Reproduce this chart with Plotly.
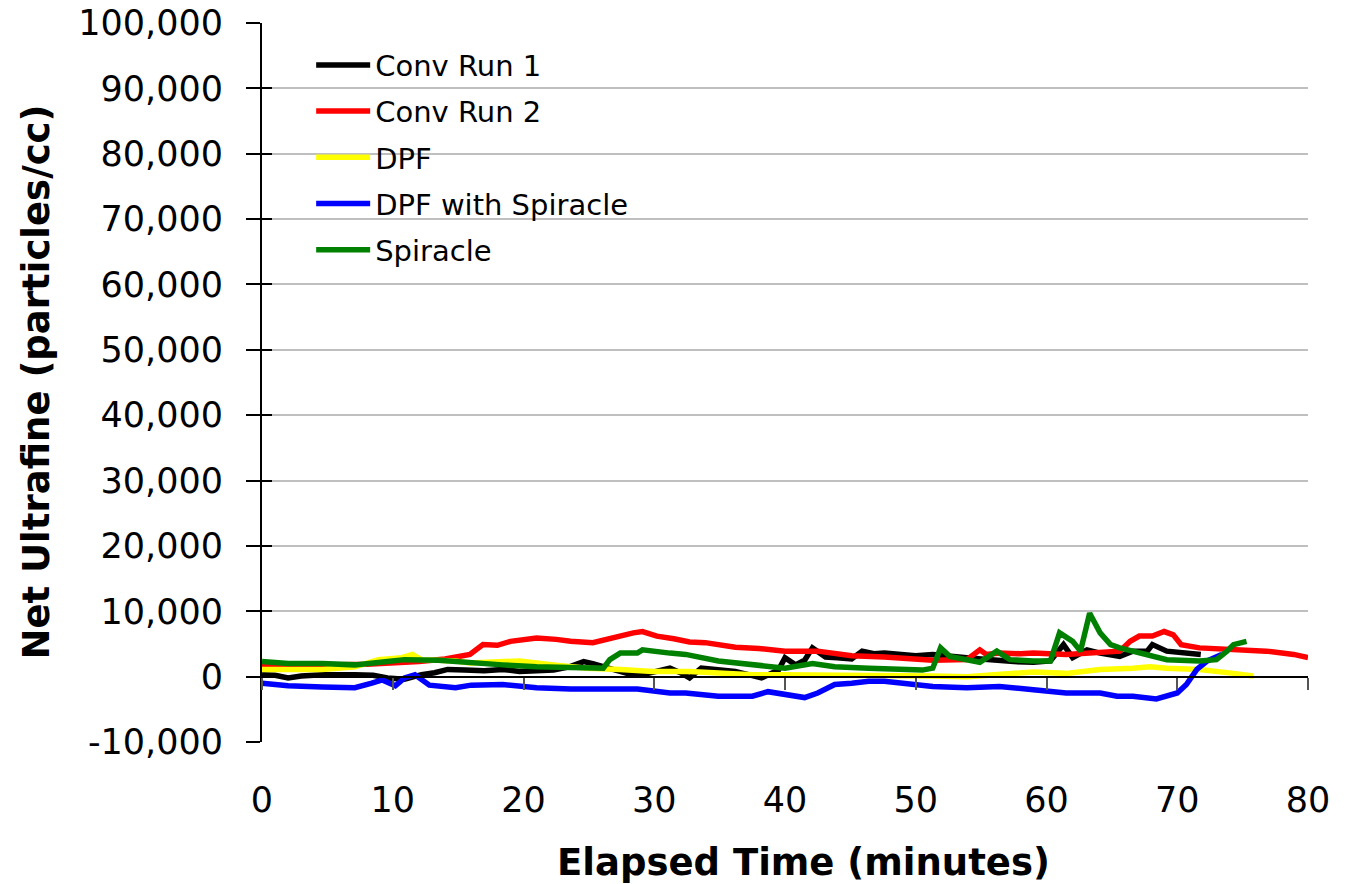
import plotly.graph_objects as go

# ---------------- data ----------------
conv1_t = [0, 1, 2, 3, 4.6, 6, 7.1, 8.5, 9.6, 10.9, 12.2, 13.2, 14.2, 15.5, 17, 18.4, 19.7, 21, 22.3,
           23.5, 24.6, 25.3, 26.1, 27, 27.9, 29.1, 30.2, 31.2, 32, 32.7, 33.6, 35, 36.2, 37.2, 38.2,
           39.5, 40, 40.8, 41.5, 42.1, 43.1, 44, 45.1, 45.9, 46.8, 47.6, 48.8, 50, 51.3, 52.5, 53.9,
           55, 56.4, 57.5, 59, 60.3, 61.3, 62, 63.1, 64.1, 65.6, 66.6, 67.7, 68.1, 69.2, 70.5, 71.8]
conv1_v = [300, 200, -200, 100, 300, 400, 300, 200, -200, -400, 300, 600, 1100, 1000, 900, 1100, 800,
           900, 1000, 1500, 2300, 2000, 1500, 900, 500, 300, 800, 1300, 600, -200, 1300, 1000, 800,
           300, -200, 1000, 2900, 1800, 2500, 4400, 3000, 2900, 2700, 3900, 3500, 3600, 3400, 3200,
           3400, 3100, 2900, 2700, 2400, 2300, 2200, 2400, 4900, 2900, 4100, 3600, 3100, 3900, 3900,
           4900, 3900, 3600, 3400]

conv2_t = [0, 2, 4, 6, 8, 10, 12, 14, 15.9, 16.9, 18, 19, 21, 22.5, 23.6, 25.3, 26.6, 28.4, 29.1,
           30.2, 31.5, 32.7, 33.9, 35, 36.2, 38, 40, 42.5, 44, 45.1, 47.6, 49.2, 51.3, 53.9, 54.9,
           55.4, 56.4, 58, 59, 61.5, 64.1, 65.6, 66.4, 67.1, 68.1, 69, 69.7, 70.3, 71.7, 73, 74.3,
           76.8, 78.9, 80]
conv2_v = [1600, 1600, 1700, 1800, 1900, 2000, 2300, 2700, 3400, 4900, 4800, 5400, 5900, 5700, 5400,
           5200, 5900, 6700, 6900, 6200, 5800, 5300, 5200, 4900, 4500, 4300, 3900, 3900, 3500, 3200,
           3000, 2800, 2500, 2600, 4100, 3400, 3600, 3500, 3600, 3400, 3600, 3900, 5400, 6200, 6200,
           6900, 6400, 4900, 4400, 4300, 4100, 3900, 3400, 2900]

dpf_t = [0, 2, 4.6, 7.1, 8.9, 10.7, 11.5, 12.2, 14.8, 15.9, 18.4, 19.7, 22.3, 24.9, 27.4, 29.9, 32.7,
         34.9, 37.5, 40, 42.5, 45.1, 47.6, 48.8, 51.3, 53.9, 56.4, 59, 61.5, 64.1, 66.6, 67.9, 69.2,
         71.7, 74.3, 75.8]
dpf_v = [1100, 1100, 1100, 1500, 2600, 2900, 3400, 2600, 2400, 2100, 2400, 2400, 1800, 1300, 1100,
         800, 800, 500, 300, 300, 300, 300, 300, 300, 100, 0, 300, 700, 500, 1100, 1300, 1500, 1300,
         1100, 500, 100]

dpfsp_t = [0, 2, 4.6, 7.1, 8.4, 9.2, 10.2, 10.9, 11.7, 12.2, 12.8, 14.8, 16, 18.4, 21, 23.6, 26.1,
           28.7, 31.2, 32.4, 34.9, 37.5, 38.7, 40, 41.5, 42.5, 43.8, 45.1, 46.4, 47.6, 48.8, 51.3,
           53.9, 56.4, 59, 61.5, 64.1, 65.4, 66.6, 68.4, 70, 70.7, 71.5, 72.3, 73.4]
dpfsp_v = [-1000, -1400, -1600, -1700, -1000, -500, -1400, -200, 300, -500, -1300, -1700, -1300,
           -1200, -1700, -1900, -1900, -1900, -2500, -2500, -3000, -3000, -2300, -2700, -3200, -2500,
           -1200, -1000, -700, -700, -1000, -1500, -1700, -1500, -2000, -2500, -2500, -3000, -3000,
           -3400, -2500, -1200, 1100, 2400, 3400]

spir_t = [0, 2, 4.6, 7.1, 9.6, 10.9, 13.5, 16.3, 18.4, 21, 23.6, 26.1, 26.6, 27.4, 28.7, 29.1, 31.2,
          32.4, 34.9, 37.5, 40, 42.1, 43.8, 46.4, 49.2, 50.5, 51.3, 51.9, 52.6, 53.9, 54.9, 56.2,
          57.2, 59, 60.3, 61, 62, 62.6, 63.3, 64.1, 64.9, 65.6, 66.6, 69.2, 71.7, 73, 73.8, 74.3, 75.3]
spir_v = [2300, 2000, 2000, 1800, 2300, 2600, 2500, 2000, 1800, 1500, 1500, 1300, 2600, 3600, 3600,
          4100, 3600, 3400, 2400, 1800, 1300, 2000, 1500, 1300, 1000, 1000, 1300, 4400, 3100, 2600,
          2200, 3900, 2600, 2400, 2400, 6700, 5400, 3900, 9700, 6700, 4900, 4400, 3900, 2600, 2400,
          2600, 3900, 4900, 5400]

series_names = ["Conv Run 1", "Conv Run 2", "DPF", "DPF with Spiracle", "Spiracle"]
series_colors = ["#000000", "#FF0000", "#FFFF00", "#0000FF", "#008000"]
series_t = [conv1_t, conv2_t, dpf_t, dpfsp_t, spir_t]
series_v = [conv1_v, conv2_v, dpf_v, dpfsp_v, spir_v]

x_ticks = list(range(0, 81, 10))
y_ticks = list(range(-10000, 100001, 10000))
y_ticktext = [f"{v:,}" for v in y_ticks]

FONT = "DejaVu Sans"

fig = go.Figure()
for n, c, t, v in zip(series_names, series_colors, series_t, series_v):
    fig.add_trace(go.Scatter(x=t, y=v, mode="lines", name=n, legendgroup=n,
                             line=dict(color=c, width=5.5)))

# empty helper traces so the overlay axes render
fig.add_trace(go.Scatter(x=[], y=[], xaxis="x2", yaxis="y", showlegend=False, hoverinfo="skip"))
fig.add_trace(go.Scatter(x=[], y=[], xaxis="x", yaxis="y2", showlegend=False, hoverinfo="skip"))

fig.update_layout(
    template="none",
    width=1350, height=884,
    margin=dict(l=262, r=42, t=23, b=142, autoexpand=False),
    paper_bgcolor="white", plot_bgcolor="white",
    font=dict(family=FONT, color="black", size=30),
    showlegend=True,
    legend=dict(x=0.047, y=0.977, xanchor="left", yanchor="top",
                bgcolor="rgba(0,0,0,0)", borderwidth=0,
                font=dict(family=FONT, size=29, color="black"),
                traceorder="grouped", tracegroupgap=5.5, itemwidth=54),
    xaxis=dict(range=[0, 80], tickvals=x_ticks, ticktext=[str(x) for x in x_ticks],
               showgrid=False, zeroline=False, showline=False, ticks="", automargin=False,
               tickfont=dict(size=35), ticklabelstandoff=34),
    xaxis2=dict(range=[0, 80], overlaying="x", matches="x", anchor="free", automargin=False,
                position=10000 / 110000, showline=True, linecolor="black", linewidth=2,
                ticks="outside", ticklen=12, tickcolor="#555555", tickwidth=1.5,
                tickvals=x_ticks, showticklabels=False, showgrid=False, zeroline=False),
    yaxis=dict(range=[-10000, 100000], tickvals=y_ticks, ticktext=y_ticktext, automargin=False,
               showgrid=True, gridcolor="#bfbfbf", gridwidth=1.5, zeroline=False,
               showline=True, linecolor="black", linewidth=2,
               ticks="outside", ticklen=14, tickcolor="black", tickwidth=1.5,
               tickfont=dict(size=35), ticklabelstandoff=16),
    yaxis2=dict(range=[-10000, 100000], overlaying="y", matches="y", anchor="x", side="left",
                automargin=False,
                tickvals=y_ticks, ticks="inside", ticklen=10, tickcolor="black", tickwidth=1.5,
                showticklabels=False, showgrid=False, zeroline=False, showline=False),
    shapes=[dict(type="rect", xref="paper", yref="paper", x0=0.004, x1=0.40, y0=0.652, y1=0.985,
                 fillcolor="white", line=dict(width=0), layer="between")],
    annotations=[
        dict(text="<b>Elapsed Time (minutes)</b>", xref="paper", yref="paper",
             x=0.518, y=-0.167, xanchor="center", yanchor="middle", showarrow=False,
             font=dict(family=FONT, size=37, color="black")),
        dict(text="<b>Net Ultrafine (particles/cc)</b>", xref="paper", yref="paper",
             x=-0.216, y=0.5, xanchor="center", yanchor="middle", showarrow=False,
             textangle=-90, font=dict(family=FONT, size=37, color="black")),
    ],
)

fig.write_html("out.html", config={"displayModeBar": False},
               post_script="document.body.style.margin='0';")
